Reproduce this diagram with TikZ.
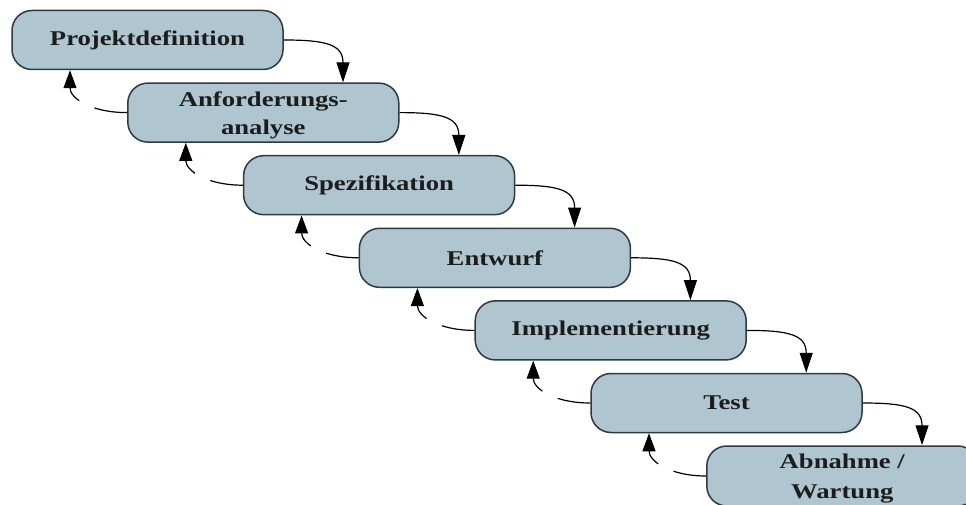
\documentclass[tikz,border=0pt]{standalone}
\usepackage{fontspec}
\setmainfont{Liberation Serif}[FakeStretch=1.27]
\usetikzlibrary{arrows.meta}
\definecolor{phasefill}{HTML}{AFC6D1}
\definecolor{phaseline}{HTML}{2E3A40}
\definecolor{phasetext}{HTML}{1C1C1C}
\newcommand{\twolines}[3][0pt]{\raisebox{-7pt}[0pt][0pt]{\begin{tabular}{@{}c@{}}#2\\[#1]#3\end{tabular}}}
\tikzset{
  phase/.style={draw=phaseline, line width=1.5pt, fill=phasefill,
    rounded corners=20pt, minimum width=271pt, minimum height=59pt,
    inner sep=0pt, align=center, text=phasetext,
    font=\fontsize{21}{28}\selectfont\bfseries},
  fwd/.style={line width=1.2pt, -{Triangle[width=13pt,length=20pt]}},
  back/.style={line width=1.2pt, -{Triangle[width=13pt,length=18pt]},
    dash pattern=on 33pt off 17pt on 200pt}
}
\begin{document}
\begin{tikzpicture}[x=1pt,y=-1pt]
\useasboundingbox (0,0) rectangle (966,505);
\clip (0,0) rectangle (966,505);
\fill[white] (0,0) rectangle (966,505);

% phases of the waterfall model
\node[phase] (p1) at (147.5,40.0)  {Projektdefinition};
\node[phase] (p2) at (263.3,112.6) {\twolines{Anforderungs-}{analyse}};
\node[phase] (p3) at (379.1,185.2) {Spezifikation};
\node[phase] (p4) at (494.9,257.8) {Entwurf};
\node[phase] (p5) at (610.7,330.4) {Implementierung};
\node[phase] (p6) at (726.5,403.0) {Test};
\node[phase, minimum height=60pt] (p7) at (842.3,476.0) {\twolines[2pt]{Abnahme /}{Wartung}};

% forward steps and feedback loops
\foreach \a/\b in {p1/p2,p2/p3,p3/p4,p4/p5,p5/p6,p6/p7}{
  \draw[fwd] (\a.east) .. controls +(42,0) and +(0,-38) .. ([xshift=79.7pt]\b.north);
  \draw[back] (\b.west) .. controls +(-36,0) and +(0,28) .. ([xshift=-77.5pt]\a.south);
}
\end{tikzpicture}
\end{document}
